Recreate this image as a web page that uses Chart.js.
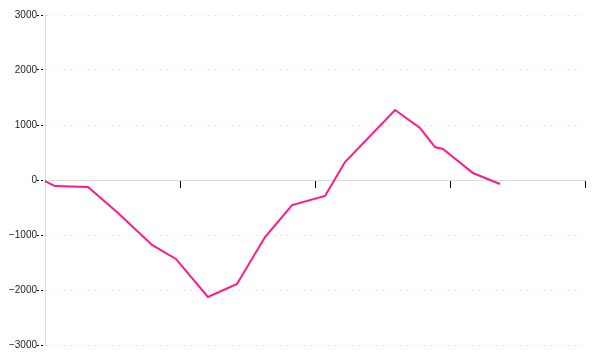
<!DOCTYPE html>
<html>
<head>
<meta charset="utf-8">
<script src="https://cdn.jsdelivr.net/npm/chart.js@4/dist/chart.umd.min.js"></script>
<style>
html,body{margin:0;padding:0;background:#fff;}
#wrap{width:600px;height:360px;position:relative;}
</style>
</head>
<body>
<div id="wrap"><canvas id="c" width="600" height="360"></canvas></div>
<script>
// x positions (axis units 0..4) and values
const xValues = [0, 0.03, 0.074, 0.319, 0.541, 0.793, 0.970, 1.207, 1.422, 1.630, 1.830, 2.074, 2.222, 2.593, 2.778, 2.889, 2.948, 3.170, 3.370];
const yValues = [-20, -55, -110, -127, -600, -1180, -1436, -2127, -1891, -1036, -455, -291, 327, 1273, 945, 600, 564, 127, -73];
const yTicks = [-3000, -2000, -1000, 0, 1000, 2000, 3000];
const xTicks = [0, 1, 2, 3, 4];

const points = xValues.map((x, i) => ({x: x, y: yValues[i]}));

new Chart(document.getElementById('c'), {
  type: 'line',
  data: {
    datasets: [{
      data: points,
      borderColor: '#ff1a8c',
      borderWidth: 2,
      pointRadius: 0,
      tension: 0,
      fill: false
    }]
  },
  options: {
    responsive: false,
    animation: false,
    layout: {padding: {top: 15, right: 15, bottom: 15, left: 0}},
    plugins: {legend: {display: false}, tooltip: {enabled: false}},
    scales: {
      x: {
        type: 'linear',
        position: {y: 0},
        min: xTicks[0],
        max: xTicks[xTicks.length - 1],
        afterBuildTicks: s => { s.ticks = xTicks.map(v => ({value: v})); },
        ticks: {display: false},
        grid: {drawOnChartArea: false, drawTicks: true, tickLength: 7, tickColor: '#000', tickWidth: 1},
        border: {color: '#dddddd', width: 1}
      },
      y: {
        min: -3000,
        max: 3000,
        afterBuildTicks: s => { s.ticks = yTicks.map(v => ({value: v})); },
        afterFit: s => { s.width = 45; },
        ticks: {
          color: '#222',
          padding: 0,
          font: {family: 'Liberation Sans', size: 10},
          callback: v => (v < 0 ? '\u2212' + Math.abs(v) : String(v))
        },
        grid: {color: '#e6e6e6', tickColor: '#000', tickLength: 8, tickWidth: 1, tickBorderDash: [2, 2]},
        border: {color: '#dddddd', dash: [2, 4]}
      }
    }
  }
});
</script>
</body>
</html>
